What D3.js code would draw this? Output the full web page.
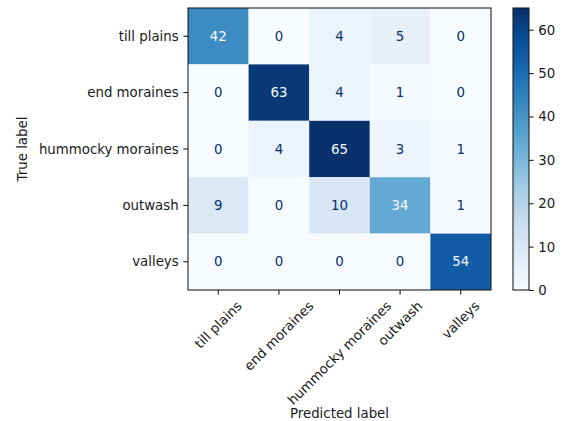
<!DOCTYPE html>
<html>
<head>
<meta charset="utf-8">
<script src="https://cdn.jsdelivr.net/npm/d3@7"></script>
<style>
  html, body { margin: 0; padding: 0; background: #fff; }
  svg { display: block; font-family: "DejaVu Sans", sans-serif; }
  .tick text { font-family: "DejaVu Sans", sans-serif; font-size: 13.33px; fill: #1a1a1a; }
  .tick line { stroke: #1a1a1a; stroke-width: 1.07; }
</style>
</head>
<body>
<svg id="chart" width="567" height="421"></svg>
<script>
// Class names (rows = true, columns = predicted)
const classes = ["till plains", "end moraines", "hummocky moraines", "outwash", "valleys"];

// Confusion-matrix counts, one array per true class
const tillPlains       = [42, 0, 4, 5, 0];
const endMoraines      = [0, 63, 4, 1, 0];
const hummockyMoraines = [0, 4, 65, 3, 1];
const outwash          = [9, 0, 10, 34, 1];
const valleys          = [0, 0, 0, 0, 54];
const matrix = [tillPlains, endMoraines, hummockyMoraines, outwash, valleys];

// Colour bar ticks
const colorbarTicks = [0, 10, 20, 30, 40, 50, 60];

// ColorBrewer "Blues" anchor colours
const bluesStops = ["#f7fbff", "#deebf7", "#c6dbef", "#9ecae1", "#6baed6",
                    "#4292c6", "#2171b5", "#08519c", "#08306b"];

const svg = d3.select("#chart");
const plot = { left: 188, right: 491, top: 8, bottom: 290 };
const cbar = { left: 513, right: 529 };
const tickLen = 4.67, tickPad = 4.67, fontSize = 13.33;
const fontFamily = '"DejaVu Sans", sans-serif';

const flat = matrix.flat();
const vmin = d3.min(flat), vmax = d3.max(flat);

const blues = d3.scaleLinear()
  .domain(bluesStops.map((_, i) => i / (bluesStops.length - 1)))
  .range(bluesStops)
  .interpolate(d3.interpolateRgb);
const norm = d3.scaleLinear().domain([vmin, vmax]).range([0, 1]);
const color = v => blues(norm(v));

const x = d3.scaleBand().domain(classes).range([plot.left, plot.right]);
const y = d3.scaleBand().domain(classes).range([plot.top, plot.bottom]);

// Cells
const cells = [];
matrix.forEach((row, i) => row.forEach((v, j) => cells.push({ t: classes[i], p: classes[j], v })));

svg.append("g").selectAll("rect").data(cells).join("rect")
  .attr("x", d => x(d.p))
  .attr("y", d => y(d.t))
  .attr("width", x.bandwidth())
  .attr("height", y.bandwidth())
  .attr("fill", d => color(d.v));

const thresh = (vmin + vmax) / 2;
svg.append("g").selectAll("text").data(cells).join("text")
  .attr("x", d => x(d.p) + x.bandwidth() / 2)
  .attr("y", d => y(d.t) + y.bandwidth() / 2)
  .attr("text-anchor", "middle")
  .attr("dominant-baseline", "central")
  .style("font-size", fontSize + "px")
  .attr("fill", d => d.v > thresh ? bluesStops[0] : bluesStops[bluesStops.length - 1])
  .text(d => d.v);

// Frame
svg.append("rect")
  .attr("x", plot.left).attr("y", plot.top)
  .attr("width", plot.right - plot.left).attr("height", plot.bottom - plot.top)
  .attr("fill", "none").attr("stroke", "#1a1a1a").attr("stroke-width", 1.07);

function styleAxis(g) {
  g.attr("font-family", fontFamily).attr("font-size", fontSize);
  g.select(".domain").remove();
}

// Y axis
const yAxis = svg.append("g")
  .attr("transform", `translate(${plot.left},0)`)
  .call(d3.axisLeft(y).tickSize(tickLen).tickPadding(tickPad).tickSizeOuter(0))
  .call(styleAxis);
yAxis.selectAll(".tick text").attr("dy", null).attr("dominant-baseline", "central");

// X axis with labels rotated 45°, bounding box centred under each tick
const xAxis = svg.append("g")
  .attr("transform", `translate(0,${plot.bottom})`)
  .call(d3.axisBottom(x).tickSize(tickLen).tickPadding(tickPad).tickSizeOuter(0))
  .call(styleAxis);
const lineH = 12;
xAxis.selectAll(".tick text").each(function () {
  const t = d3.select(this);
  const w = this.getComputedTextLength();
  const half = (w + lineH) / (2 * Math.SQRT2);
  const cy = tickLen + tickPad + half;
  t.attr("y", null).attr("dy", null)
    .attr("text-anchor", "middle")
    .attr("dominant-baseline", "central")
    .attr("transform", `translate(0,${cy}) rotate(-45)`);
});

// Axis titles
const yBox = yAxis.node().getBBox();
svg.append("text")
  .attr("transform", `translate(${plot.left + yBox.x - 5.33 - 11},${(plot.top + plot.bottom) / 2}) rotate(-90)`)
  .attr("text-anchor", "middle")
  .attr("dominant-baseline", "central")
  .style("font-size", fontSize + "px")
  .attr("fill", "#1a1a1a")
  .text("True label");

svg.append("text")
  .attr("x", (plot.left + plot.right) / 2)
  .attr("y", 417.5)
  .attr("text-anchor", "middle")
  .style("font-size", fontSize + "px")
  .attr("fill", "#1a1a1a")
  .text("Predicted label");

// Colour bar
const defs = svg.append("defs");
const grad = defs.append("linearGradient").attr("id", "bluesGrad")
  .attr("x1", 0).attr("y1", 1).attr("x2", 0).attr("y2", 0);
grad.selectAll("stop").data(bluesStops).join("stop")
  .attr("offset", (d, i) => i / (bluesStops.length - 1))
  .attr("stop-color", d => d);

svg.append("rect")
  .attr("x", cbar.left).attr("y", plot.top)
  .attr("width", cbar.right - cbar.left).attr("height", plot.bottom - plot.top)
  .attr("fill", "url(#bluesGrad)")
  .attr("stroke", "#1a1a1a").attr("stroke-width", 1.07);

const cScale = d3.scaleLinear().domain([vmin, vmax]).range([plot.bottom, plot.top]);
const cAxis = svg.append("g")
  .attr("transform", `translate(${cbar.right},0)`)
  .call(d3.axisRight(cScale).tickValues(colorbarTicks).tickSize(tickLen).tickPadding(tickPad).tickSizeOuter(0))
  .call(styleAxis);
cAxis.selectAll(".tick text").attr("dy", null).attr("dominant-baseline", "central");
</script>
</body>
</html>
